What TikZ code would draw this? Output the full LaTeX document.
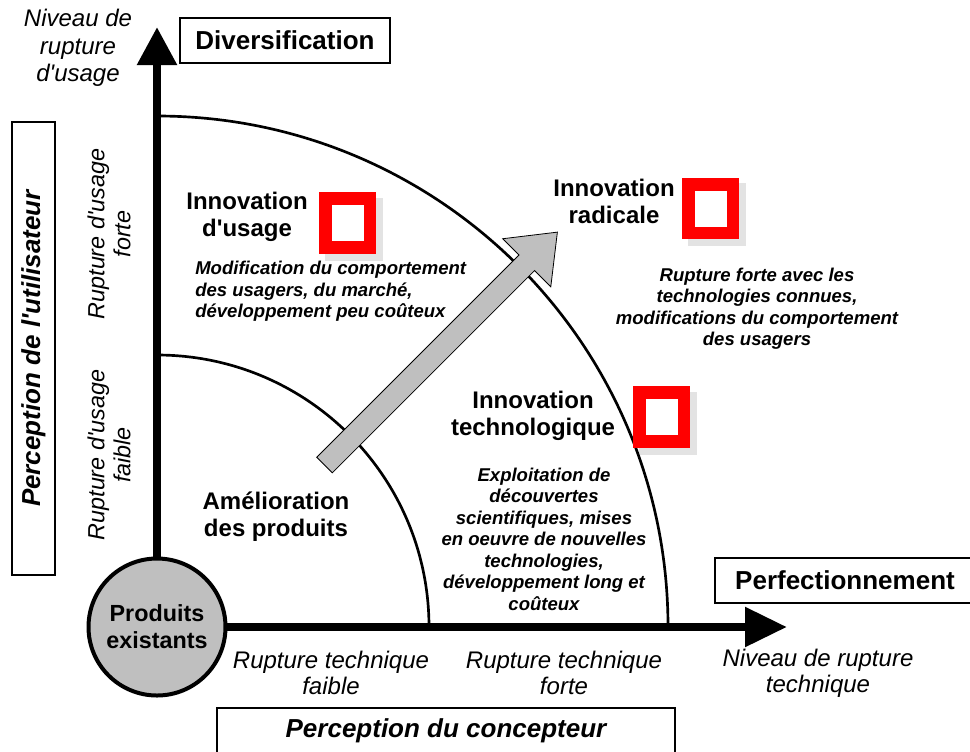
\documentclass[tikz,border=0pt]{standalone}
\usepackage{fontspec}
\setmainfont{Liberation Sans}
\newfontfamily\arial{Liberation Sans}
\usetikzlibrary{arrows.meta,shadows}
\begin{document}
\begin{tikzpicture}[x=0.75pt,y=-0.75pt,
  axis/.style={line width=6.4pt},
  ring/.style={line width=2pt},
  labbox/.style={draw, line width=1.5pt, fill=white, inner sep=0pt, align=center,
    font=\arial\fontsize{19.5}{22}\selectfont\bfseries},
  axlab/.style={align=center, inner sep=0pt, font=\arial\fontsize{18}{19.5}\selectfont\itshape},
  title/.style={align=center, inner sep=0pt, font=\arial\fontsize{18}{20.25}\selectfont\bfseries},
  desc/.style={inner sep=0pt, font=\arial\fontsize{13.9}{16.1}\selectfont\bfseries\itshape},
  redsq/.style={draw=red, line width=9.4pt, fill=white, minimum width=33.4pt, minimum height=36.4pt,
    inner sep=0pt, drop shadow={opacity=0.22, shadow scale=1.3, shadow xshift=3.5pt, shadow yshift=-3.5pt}},
  bigarrow/.style={fill=gray!50, draw=black, line width=0.6pt, line join=miter}
]
\useasboundingbox (0,0) rectangle (970,751);
\clip (0,0) rectangle (970,751);

% origin and axis tips
\coordinate (o) at (157,627);
\coordinate (ytip) at (157,27);
\coordinate (xtip) at (787,627);

% quarter arcs
\draw[ring] (o) ++(90:204pt) coordinate (a1s) arc[start angle=90, end angle=0, radius=204pt];
\draw[ring] (o) ++(90:383.25pt) coordinate (a2s) arc[start angle=90, end angle=0, radius=383.25pt];

% axes
\draw[axis, -{Triangle[length=28.5pt,width=28.5pt]}] (o) -- (ytip);
\draw[axis, -{Triangle[length=31.5pt,width=28.5pt]}] (o) -- (xtip);

% big grey arrow
\begin{scope}[shift={(324.5,465)}, rotate=45]
  \draw[bigarrow] (0pt,-8.25pt) -- (214.5pt,-8.25pt) -- (214.5pt,-25.5pt) -- (247pt,0pt)
    -- (214.5pt,25.5pt) -- (214.5pt,8.25pt) -- (0pt,8.25pt) -- cycle;
\end{scope}

% centre circle
\node[circle, draw, line width=3pt, fill=gray!50, minimum size=102.75pt, inner sep=0pt,
  align=center, font=\arial\fontsize{17.5}{20.25}\selectfont\bfseries] (prod) at (o) {Produits\\existants};

% boxed labels
\node[labbox, minimum width=157.5pt, minimum height=33.75pt] (div) at (285,40.5) {Diversification};
\node[labbox, minimum width=195pt, minimum height=33.75pt] (perf) at (845,580.5) {Perfectionnement};
\node[labbox, minimum width=343.5pt, minimum height=33.75pt, font=\arial\fontsize{19.5}{22}\selectfont\bfseries\itshape] (conc) at (446,730.5) {Perception du concepteur};
\node[labbox, rotate=90, minimum width=339.75pt, minimum height=32.25pt, font=\arial\fontsize{19.5}{22}\selectfont\bfseries\itshape] (util) at (33.5,348.5) {Perception de l'utilisateur};

% axis labels
\node[axlab, font=\arial\fontsize{18}{20.6}\selectfont\itshape] (ylab) at (78,48) {Niveau de\\rupture\\d'usage};
\node[axlab] (xlab) at (818,673) {Niveau de rupture\\technique};
\node[axlab] (rtf) at (331,673) {Rupture technique\\faible};
\node[axlab] (rtF) at (564,673) {Rupture technique\\forte};
\node[axlab, rotate=90, font=\arial\fontsize{17.5}{19.5}\selectfont\itshape] (ruF) at (109,234) {Rupture d'usage\\forte};
\node[axlab, rotate=90, font=\arial\fontsize{17.5}{19.5}\selectfont\itshape] (ruf) at (109,455) {Rupture d'usage\\faible};

% zone titles
\node[title] (iu) at (247,217) {Innovation\\d'usage};
\node[title] (ir) at (614,201) {Innovation\\radicale};
\node[title] (it) at (533,416) {Innovation\\technologique};
\node[title] (am) at (276,517) {Amélioration\\des produits};

% descriptions
\node[desc, anchor=west, align=left] (du) at (195,291.5) {Modification du comportement\\des usagers, du marché,\\développement peu coûteux};
\node[desc, align=center] (dr) at (757,308.5) {Rupture forte avec les\\technologies connues,\\modifications du comportement\\des usagers};
\node[desc, align=center] (dt) at (544,539) {Exploitation de\\découvertes\\scientifiques, mises\\en oeuvre de nouvelles\\technologies,\\développement long et\\coûteux};

% red markers
\node[redsq] (sq1) at (347.5,223) {};
\node[redsq] (sq2) at (710.5,208.5) {};
\node[redsq] (sq3) at (661.5,417) {};
\end{tikzpicture}
\end{document}
